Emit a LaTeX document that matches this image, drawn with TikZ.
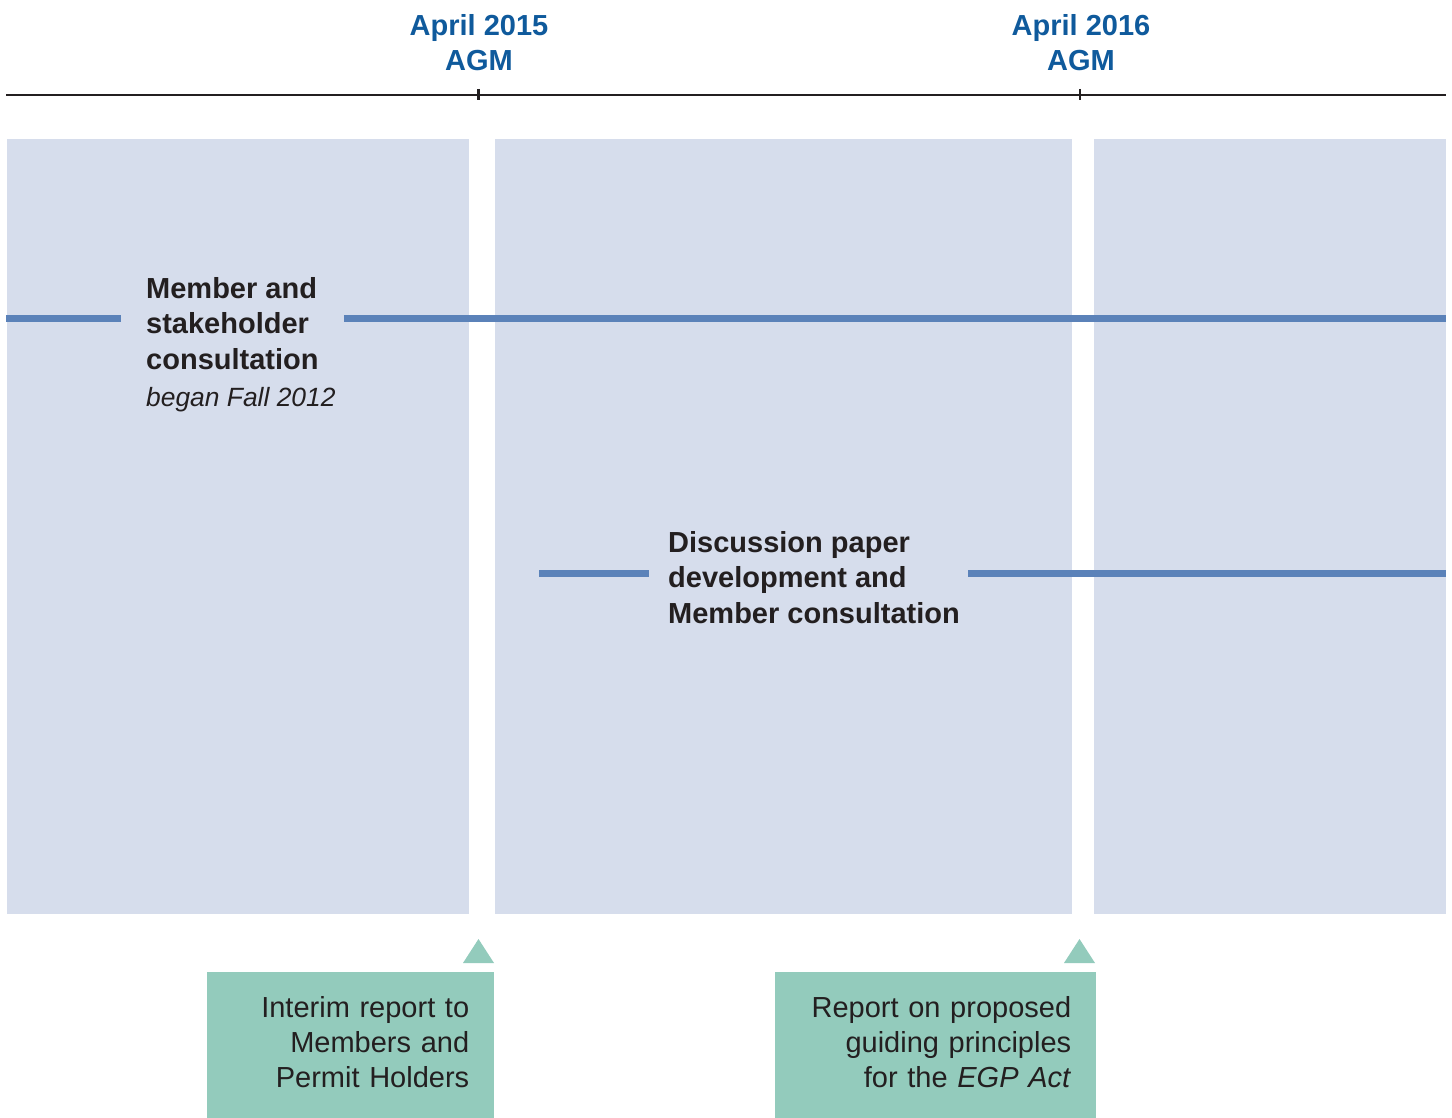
\documentclass[tikz,border=0pt]{standalone}
\usepackage{fontspec}
\setmainfont{Liberation Sans}
\usepackage{tikz,xcolor}
\usetikzlibrary{positioning}
\definecolor{agmblue}{HTML}{0F5A9C}
\definecolor{panelgrey}{HTML}{D6DDEC}
\definecolor{trackblue}{HTML}{5B82B9}
\definecolor{reportgreen}{HTML}{93CBBC}
\definecolor{ink}{HTML}{231F20}
\tikzstyle{agm} = [align=center, inner sep=0pt, text=agmblue, font=\fontsize{29}{34.7}\selectfont\bfseries]
\tikzstyle{panel} = [fill=panelgrey]
\tikzstyle{track} = [draw=trackblue, line width=7pt]
\tikzstyle{phase} = [align=left, inner sep=0pt, text=ink, font=\fontsize{29}{35.5}\selectfont\bfseries]
\tikzstyle{note} = [inner sep=0pt, text=ink, font=\fontsize{26.4}{30}\selectfont\itshape]
\tikzstyle{report} = [fill=reportgreen, text=ink, align=right, inner xsep=25pt, inner ysep=0pt, minimum height=146pt, text depth=76pt, anchor=north west, font=\fontsize{29}{35}\selectfont]
\tikzstyle{flag} = [fill=reportgreen]

\begin{document}
\begin{tikzpicture}[x=1pt, y=-1pt]
\useasboundingbox (0,0) rectangle (1452,1118);
% background panels
\fill[panel] (7,139) rectangle (469,914);
\fill[panel] (495,139) rectangle (1072,914);
\fill[panel] (1094,139) rectangle (1446,914);
% timeline with the two AGMs
\coordinate (tl) at (6,95);
\coordinate (tr) at (1446,95);
\coordinate (agm15) at (478.5,95);
\coordinate (agm16) at (1080,95);
\draw[ink, line width=2.4pt] (tl) -- (tr);
\draw[ink, line width=2.4pt] ([yshift=6pt]agm15) -- ([yshift=-5pt]agm15);
\draw[ink, line width=2.4pt] ([yshift=6pt]agm16) -- ([yshift=-5pt]agm16);
\node[agm, anchor=base] (lbl15) at (479,70.7) {April 2015\\AGM};
\node[agm, anchor=base] (lbl16) at (1081,70.7) {April 2016\\AGM};
% first track
\coordinate (row1w) at (6,318.5);
\coordinate (row1e) at (1446,318.5);
\node[phase, anchor=base west] (member) at (146,369) {Member and\\stakeholder\\consultation};
\node[note, anchor=base west] (began) at (146,406) {began Fall 2012};
\draw[track] (row1w) -- ([xshift=-25pt]member.west |- row1w);
\draw[track] ([xshift=25pt]member.east |- row1w) -- (row1e);
% second track
\coordinate (row2w) at (539,573);
\coordinate (row2e) at (1446,573);
\node[phase, anchor=base west] (paper) at (668,623) {Discussion paper\\development and\\Member consultation};
\draw[track] (row2w) -- ([xshift=-19pt]paper.west |- row2w);
\draw[track] ([xshift=8pt]paper.east |- row2w) -- (row2e);
% reports
\coordinate (mark15) at (478.5,963);
\coordinate (mark16) at (1079.5,963);
\fill[flag] ([xshift=-15.5pt]mark15) -- ([xshift=15.5pt]mark15) -- ([yshift=24pt]mark15) -- cycle;
\fill[flag] ([xshift=-15.5pt]mark16) -- ([xshift=15.5pt]mark16) -- ([yshift=24pt]mark16) -- cycle;
\node[report, text width=237pt] (interim) at (207,972) {Interim report to\\Members and\\Permit Holders};
\node[report, text width=271pt] (principles) at (775,972) {Report on proposed\\guiding principles\\for the \textit{EGP Act}};
\end{tikzpicture}
\end{document}
